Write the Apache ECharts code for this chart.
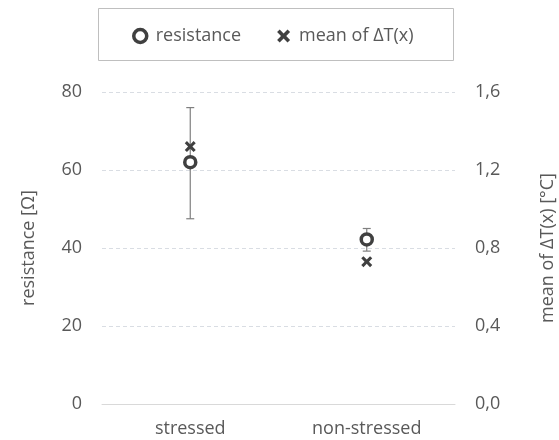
<!DOCTYPE html>
<html><head><meta charset="utf-8">
<script src="https://cdn.jsdelivr.net/npm/echarts@6/dist/echarts.min.js"></script>
<style>html,body{margin:0;padding:0;background:#fff}#c{width:559px;height:440px}</style>
</head><body><div id="c"></div>
<script>
const categories = ['stressed', 'non-stressed'];
const resistance = [62, 42.2];
const resistanceLow = [47.5, 39.2];
const resistanceHigh = [76, 45];
const meanDeltaT = [1.32, 0.73];
const leftTicks = [0, 20, 40, 60, 80];
const rightTicks = ['0,0', '0,4', '0,8', '1,2', '1,6'];

const crossPath = 'path://M2,0 L5,3 L8,0 L10,2 L7,5 L10,8 L8,10 L5,7 L2,10 L0,8 L3,5 L0,2 Z';
const dark = '#404040';
const txt = '#595959';
const font = 'Open Sans';
const fs = 18;

const chart = echarts.init(document.getElementById('c'));
chart.setOption({
  animation: false,
  textStyle: { fontFamily: font },
  graphic: [{
    type: 'rect', left: 98, top: 8, z: 0,
    shape: { width: 355, height: 52 },
    style: { fill: '#fff', stroke: '#bfbfbf', lineWidth: 1 }
  }],
  legend: {
    top: 22, left: 127, itemGap: 36, itemWidth: 13, itemHeight: 13,
    textStyle: { color: txt, fontSize: fs, fontFamily: font, padding: [0, 0, 0, 4] },
    data: [
      { name: 'resistance', icon: 'circle', itemStyle: { color: '#fff', borderColor: dark, borderWidth: 3.5 } },
      { name: 'mean of ΔT(x)', icon: crossPath, itemStyle: { color: dark } }
    ]
  },
  grid: { left: 102, right: 104, top: 92, bottom: 36, containLabel: false, outerBoundsMode: 'none' },
  xAxis: {
    type: 'category', data: categories,
    axisLine: { lineStyle: { color: '#d9d9d9' } },
    axisTick: { show: false },
    axisLabel: { color: txt, fontSize: fs, margin: 16, fontFamily: font }
  },
  yAxis: [{
    type: 'value', min: 0, max: 80, interval: 20,
    name: 'resistance [Ω]', nameLocation: 'middle', nameGap: 64, nameRotate: 90,
    nameTextStyle: { color: txt, fontSize: fs, fontFamily: font },
    axisLine: { show: false }, axisTick: { show: false },
    axisLabel: { color: txt, fontSize: fs, margin: 20, fontFamily: font },
    splitLine: { lineStyle: { color: '#d9dde3', type: [4, 3] } }
  }, {
    type: 'value', min: 0, max: 1.6, interval: 0.4,
    name: 'mean of ΔT(x) [°C]', nameLocation: 'middle', nameGap: 84, nameRotate: 90,
    nameTextStyle: { color: txt, fontSize: fs, fontFamily: font },
    axisLine: { show: false }, axisTick: { show: false },
    axisLabel: { color: txt, fontSize: fs, margin: 20, fontFamily: font,
      formatter: (v) => rightTicks[Math.round(v / 0.4)] },
    splitLine: { show: false }
  }],
  series: [{
    type: 'custom', name: 'err', yAxisIndex: 0, z: 1,
    data: categories.map((c, i) => [i, resistanceLow[i], resistanceHigh[i]]),
    renderItem: function (params, api) {
      const lo = api.coord([api.value(0), api.value(1)]);
      const hi = api.coord([api.value(0), api.value(2)]);
      const w = 4;
      const st = { stroke: '#7f7f7f', lineWidth: 1.2 };
      return { type: 'group', children: [
        { type: 'line', shape: { x1: lo[0], y1: lo[1], x2: hi[0], y2: hi[1] }, style: st },
        { type: 'line', shape: { x1: lo[0] - w, y1: lo[1], x2: lo[0] + w, y2: lo[1] }, style: st },
        { type: 'line', shape: { x1: hi[0] - w, y1: hi[1], x2: hi[0] + w, y2: hi[1] }, style: st }
      ]};
    }
  }, {
    type: 'scatter', name: 'resistance', yAxisIndex: 0, z: 3,
    data: resistance, symbol: 'circle', symbolSize: 11,
    itemStyle: { color: '#fff', borderColor: dark, borderWidth: 3.5, opacity: 1 }
  }, {
    type: 'scatter', name: 'mean of ΔT(x)', yAxisIndex: 1, z: 3,
    data: meanDeltaT, symbol: crossPath, symbolSize: 11,
    itemStyle: { color: dark, opacity: 1 }
  }]
});
</script></body></html>
